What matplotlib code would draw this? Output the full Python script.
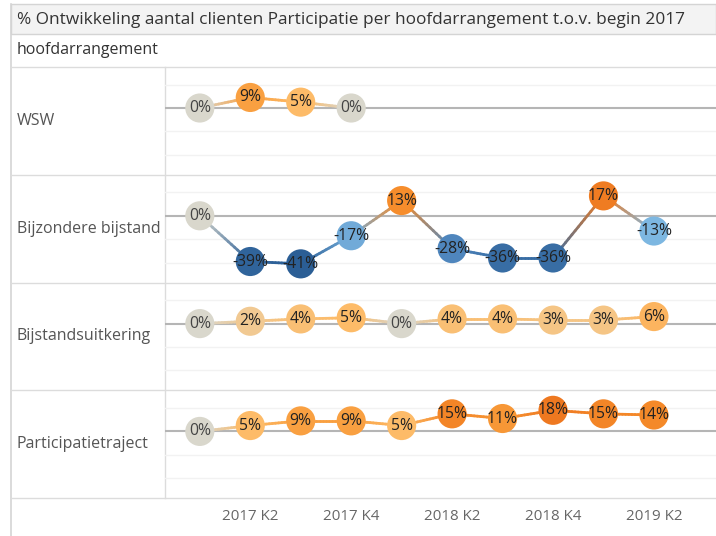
import matplotlib
matplotlib.use('Agg')
import matplotlib.pyplot as plt
from matplotlib.collections import LineCollection
from matplotlib.colors import LinearSegmentedColormap, Normalize
import numpy as np

plt.rcParams['font.family'] = ['Open Sans', 'DejaVu Sans']

title = '% Ontwikkeling aantal clienten Participatie per hoofdarrangement t.o.v. begin 2017'
header = 'hoofdarrangement'
quarters = ['2017 K1', '2017 K2', '2017 K3', '2017 K4', '2018 K1', '2018 K2',
            '2018 K3', '2018 K4', '2019 K1', '2019 K2']
tick_quarters = ['2017 K2', '2017 K4', '2018 K2', '2018 K4', '2019 K2']

groups = ['WSW', 'Bijzondere bijstand', 'Bijstandsuitkering', 'Participatietraject']
wsw = [0, 9, 5, 0]
bijzondere = [0, -39, -41, -17, 13, -28, -36, -36, 17, -13]
bijstand = [0, 2, 4, 5, 0, 4, 4, 3, 3, 6]
participatie = [0, 5, 9, 9, 5, 15, 11, 18, 15, 14]
series = [wsw, bijzondere, bijstand, participatie]

# diverging colour scale (blue - grey - orange)
vmin, vmax = -41, 18
anchors = [(-41, '#2b5e95'), (-28, '#4f86bd'), (-13, '#7db7e1'), (0, '#d9d7cc'),
           (2, '#f1c992'), (5, '#fdbb68'), (9, '#f9a041'), (13, '#f68e2c'), (18, '#ee7820')]
cmap = LinearSegmentedColormap.from_list(
    'div', [((v - vmin) / (vmax - vmin), c) for v, c in anchors])
norm = Normalize(vmin, vmax)

W, H = 716, 536
fig = plt.figure(figsize=(W / 100, H / 100), dpi=100)

bg = fig.add_axes([0, 0, 1, 1])
bg.set_xlim(0, W)
bg.set_ylim(H, 0)
bg.axis('off')

# title bar and header
bg.add_patch(plt.Rectangle((11, 4), W - 11, 30, facecolor='#f3f3f3', edgecolor='#d4d4d4', lw=1))
bg.text(17, 20, title, fontsize=12.4, color='#333333', va='center', ha='left')
bg.text(17, 50, header, fontsize=11.5, color='#333333', va='center', ha='left')
bg.plot([11, 11], [4, H], color='#d4d4d4', lw=1.2)

top0, row_h = 67, 107.8
x_left = 165
for i in range(len(groups) + 1):
    y = top0 + i * row_h
    bg.plot([11, W], [y, y], color='#dcdcdc', lw=1)
bg.plot([x_left, x_left], [top0, top0 + 4 * row_h], color='#dcdcdc', lw=1)

for i, name in enumerate(groups):
    bg.text(17, top0 + (i + 0.5) * row_h, name, fontsize=11.5, color='#555555',
            va='center', ha='left')

xpos = np.arange(len(quarters))
for i, vals in enumerate(series):
    top = top0 + i * row_h
    ax = fig.add_axes([x_left / W, 1 - (top + row_h) / H, (W - x_left) / W, row_h / H])
    ax.set_xlim(-0.69, 10.23)
    ax.set_ylim(-57, 35)
    ax.axis('off')
    for g in [20, -20, -40]:
        ax.axhline(g, color='#f2f2f2', lw=1, zorder=0)
    ax.axhline(0, color='#b5b5b5', lw=1.5, zorder=1)

    x = xpos[:len(vals)]
    v = np.array(vals, dtype=float)
    pcols = [np.array(cmap(norm(a))) for a in v]
    segs, cols = [], []
    n = 16
    for k in range(len(v) - 1):
        for j in range(n):
            t, t2 = j / n, (j + 1) / n
            segs.append([(x[k] + t * (x[k + 1] - x[k]), v[k] + t * (v[k + 1] - v[k])),
                         (x[k] + t2 * (x[k + 1] - x[k]), v[k] + t2 * (v[k + 1] - v[k]))])
            tm = (t + t2) / 2
            cols.append((1 - tm) * pcols[k] + tm * pcols[k + 1])
    lc = LineCollection(segs, colors=cols, linewidths=2.0, zorder=2, capstyle='round')
    ax.add_collection(lc)
    ax.scatter(x, v, s=440, c=pcols, edgecolors='none', zorder=3)
    for xi, a in zip(x, vals):
        ax.text(xi, a, f'{a}%', fontsize=11.3, color='#222222' if a != 0 else '#444444',
                ha='center', va='center', zorder=4, clip_on=False)

# x axis labels
for q in tick_quarters:
    k = quarters.index(q)
    px = 200 + 50.45 * k
    bg.text(px, 517, q, fontsize=10.9, color='#666666', ha='center', va='center')

fig.savefig('out.png', dpi=100)
